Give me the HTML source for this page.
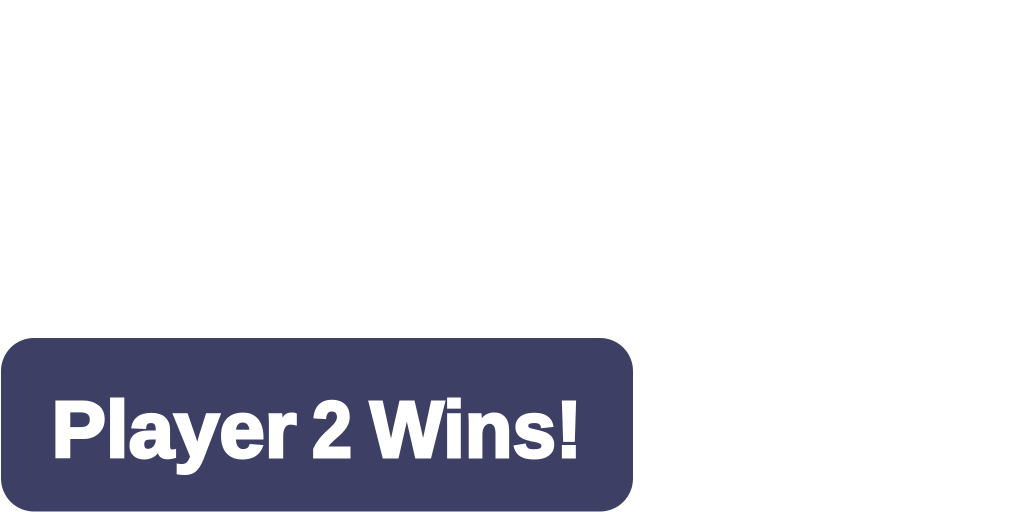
<!DOCTYPE html>
<html lang="en">
<head>
<meta charset="utf-8">
<title>Player 2 Wins</title>
<style>
  html, body { margin: 0; padding: 0; width: 1024px; height: 512px; background: #ffffff; overflow: hidden; }
  svg { display: block; }
  text { font-family: "Liberation Sans", sans-serif; font-weight: 700; font-size: 80px; fill: #ffffff; stroke: #ffffff; stroke-width: 3px; stroke-linejoin: miter; }
</style>
</head>
<body>
<svg width="1024" height="512" viewBox="0 0 1024 512" xmlns="http://www.w3.org/2000/svg">
  <rect x="1" y="338" width="632" height="173.500" rx="33" ry="33" fill="#3d4064"/>
  <text x="51.500" y="457" textLength="245" lengthAdjust="spacingAndGlyphs">Player</text>
  <text x="312" y="457" textLength="40" lengthAdjust="spacingAndGlyphs">2</text>
  <text x="370" y="457" textLength="212" lengthAdjust="spacingAndGlyphs">Wins!</text>
</svg>
</body>
</html>
